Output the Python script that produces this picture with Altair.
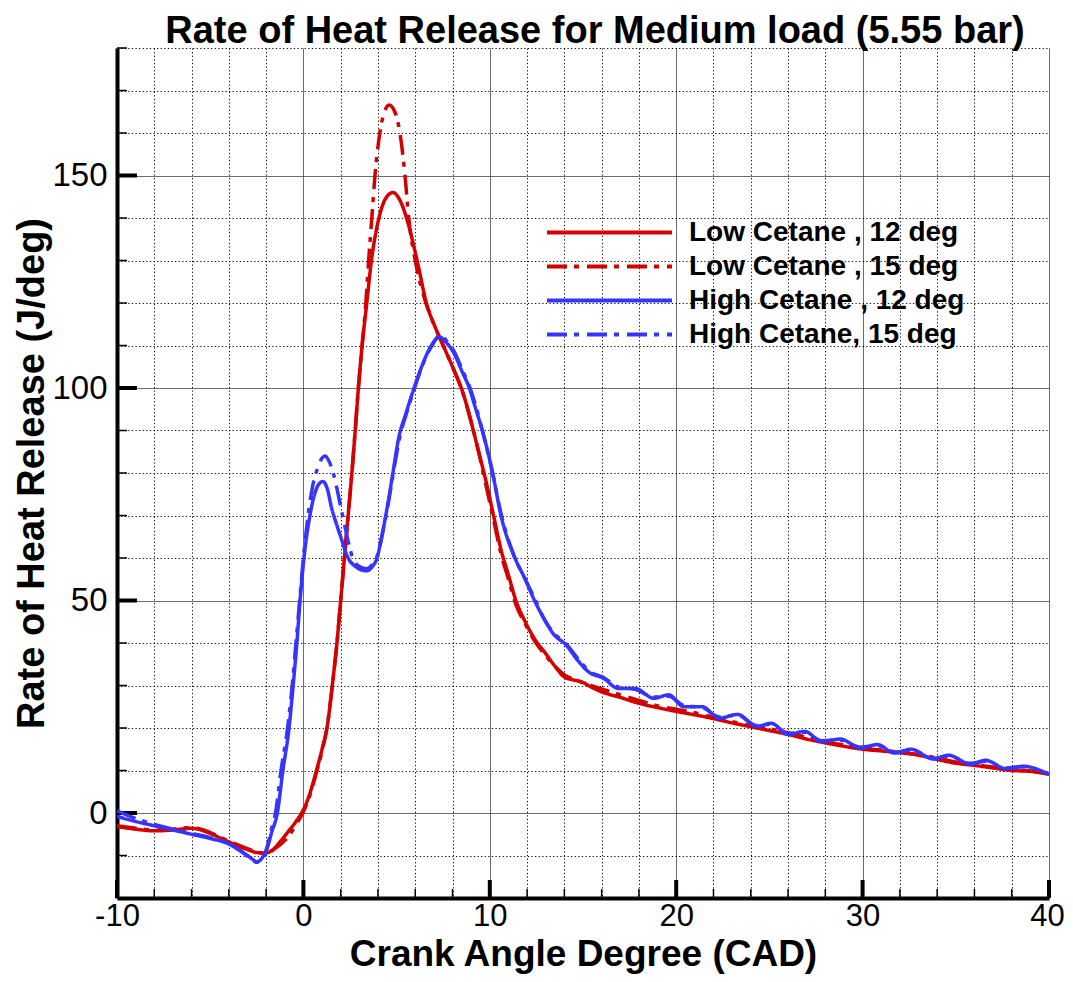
import altair as alt
import pandas as pd

SERIES = ["Low Cetane , 12 deg", "Low Cetane , 15 deg", "High Cetane , 12 deg", "High Cetane, 15 deg"]
COLORS = ["#d40000", "#d40000", "#3535ff", "#3535ff"]
DASHES = [[1, 0], [20, 7, 5, 8], [1, 0], [20, 7, 5, 8]]

low12_x = [-10, -9, -8, -7, -6, -5.5, -5, -4.5, -4, -3.5, -3, -2.5, -2, -1.6, -1.2, -0.8, -0.4, 0, 0.3, 0.7,
           1.0, 1.3, 1.55, 1.8, 2.0, 2.2, 2.4, 2.6, 2.78, 2.95, 3.15, 3.4, 3.65, 4.0, 4.4, 4.8, 5.2, 5.6,
           6.1, 6.6, 7.1, 7.6, 8.1, 8.55, 9.0, 9.4, 9.8, 10.2, 10.6, 11.0, 11.4, 11.9, 12.4, 13.0, 13.5,
           14.0, 14.5, 14.9, 15.5, 16, 17, 18, 19, 20, 21, 22, 23, 24, 25, 26, 27, 28, 29, 30, 31, 32,
           33, 34, 35, 36, 37, 38, 39, 40]
low12_y = [-3.2, -3.8, -4.2, -4.0, -3.6, -4.0, -4.8, -5.8, -6.8, -7.8, -8.6, -9.3, -9.4, -8.5, -6.5, -4.3,
           -2.0, 0.8, 4, 10, 15, 21, 30, 40, 50, 60, 70, 80, 90, 100, 110, 120, 130, 139, 144.5, 146,
           144, 139, 130, 120, 114, 109, 104, 99, 92, 85, 78, 70, 62, 56, 50, 45, 41, 37.5, 34.5, 32,
           31.3, 30.9, 29.5, 28.5, 27.2, 25.8, 24.8, 23.9, 23.1, 22.2, 21.2, 20.3, 19.4, 18.5, 17.4,
           16.5, 15.7, 15.0, 14.6, 14.2, 13.6, 12.6, 11.7, 11.2, 10.6, 10.0, 9.8, 9.1]

low15_x = [-10, -9, -8, -7, -6, -5.5, -5, -4, -3, -2.5, -2, -1.6, -1.2, -0.8, -0.4, 0, 0.3, 0.7, 1.0, 1.3,
           1.55, 1.8, 2.0, 2.2, 2.4, 2.6, 2.78, 2.95, 3.15, 3.35, 3.5, 3.67, 3.84, 4.1, 4.35, 4.6, 4.9,
           5.18, 5.45, 5.65, 6.0, 6.5, 7.0, 7.5, 8.0, 8.5, 9.0, 9.4, 9.8, 10.2, 10.6, 11.0, 11.4, 11.9,
           12.4, 13.0, 13.5, 14.0, 14.5, 15, 15.5, 16, 17, 18, 19, 20, 21, 22, 23, 24, 25, 26, 27, 28,
           29, 30, 31, 32, 33, 34, 35, 36, 37, 38, 39, 40]
low15_y = [-3.0, -3.6, -4.0, -3.8, -3.4, -3.8, -4.6, -6.6, -8.4, -9.2, -9.6, -8.6, -7.3, -5.5, -2.8, 0.3,
           3.5, 9.5, 14.5, 21, 30, 40, 50, 60, 70, 80, 90, 100, 110, 120, 130, 140, 150, 160, 165,
           166.6, 165, 160, 150, 140, 130, 121, 115, 110, 105, 99.5, 92, 85, 77, 69, 61, 55, 49, 44.5,
           40.5, 37, 34.5, 32.5, 31.5, 30.6, 29.9, 29.2, 27.8, 26.5, 25.2, 24.4, 23.6, 22.5, 21.5,
           20.6, 19.8, 18.9, 17.8, 16.8, 16.0, 15.2, 14.8, 14.3, 13.8, 12.9, 12.0, 11.4, 10.8, 10.2,
           9.9, 9.2]

high12_x = [-10, -9, -8, -7, -6, -5, -4, -3.5, -3, -2.7, -2.5, -2.2, -1.95, -1.7, -1.4, -1.1, -0.77,
            -0.55, -0.35, -0.18, 0.03, 0.35, 0.6, 0.85, 1.05, 1.3, 1.5, 1.7, 2.0, 2.4, 2.8, 3.1, 3.4,
            3.7, 3.95, 4.2, 4.5, 4.8, 5.1, 5.5, 5.9, 6.3, 6.8, 7.3, 7.6, 8.1, 8.5, 8.9, 9.25, 9.6,
            10.15, 10.6, 11.35, 11.9, 12.4, 13.0, 13.4, 14.1, 14.7, 15.3, 16.1, 16.9, 17.8, 18.8,
            19.6, 20.4, 21.4, 22.3, 23.3, 24.3, 25.1, 26.0, 26.9, 27.8, 28.8, 29.9, 30.8, 31.7, 32.6,
            33.8, 34.6, 35.8, 36.6, 37.7, 38.6, 40]
high12_y = [-0.8, -2.0, -3.0, -4.0, -5.0, -6.0, -7.3, -8.6, -10.0, -11.0, -11.5, -10.5, -8.4, -4.5, 0,
            10, 20, 30, 40, 50, 60, 70, 75, 77.5, 78, 76, 72, 69, 65, 60, 58, 57.2, 57, 58, 60, 65,
            72, 80, 88, 94, 99.5, 104.5, 109.5, 112, 111, 108, 104, 100, 95, 90, 80, 70, 60, 55, 50,
            45, 42.2, 39.5, 36, 33.2, 31.7, 29.3, 29.3, 27.0, 27.8, 25.0, 25.0, 22.3, 23.2, 20.4,
            21.1, 18.5, 19.2, 16.8, 17.4, 15.3, 16.1, 14.1, 15.0, 12.7, 13.6, 11.5, 12.4, 10.4, 11.0,
            9.1]

high15_x = [-10, -9, -8, -7, -6, -5, -4, -3.5, -3, -2.7, -2.5, -2.2, -1.95, -1.7, -1.5, -1.2, -0.85,
            -0.6, -0.4, -0.2, 0.0, 0.25, 0.5, 0.75, 1.0, 1.16, 1.35, 1.6, 2.1, 2.65, 3.0, 3.4, 3.7,
            4.0, 4.3, 4.6, 4.9, 5.2, 5.6, 6.0, 6.4, 6.9, 7.35, 7.7, 8.1, 8.5, 8.9, 9.3, 9.6, 10.15,
            10.6, 11.3, 11.9, 12.4, 13.0, 13.4, 14.1, 14.7, 15.3, 16.1, 16.9, 17.8, 18.8, 19.6, 20.4,
            21.4, 22.3, 23.3, 24.3, 25.1, 26.0, 26.9, 27.8, 28.8, 29.9, 30.8, 31.7, 32.6, 33.8, 34.6,
            35.8, 36.6, 37.7, 38.6, 40]
high15_y = [0.5, -1.3, -2.7, -3.8, -4.8, -5.8, -7.2, -8.5, -10.2, -11.2, -11.6, -10.8, -8.0, -3.5, 0,
            10, 20, 30, 40, 50, 60, 70, 77, 81, 83.5, 84, 83, 80, 70, 60, 58, 57.5, 58.5, 61, 67, 74,
            82, 89, 95, 100.5, 105.5, 110, 112.5, 111, 108.5, 104.5, 100.5, 95, 90, 80, 70.5, 60.5,
            55, 50.5, 45, 42.5, 39.8, 36.5, 33.5, 31.9, 29.6, 29.1, 27.3, 27.5, 25.3, 24.8, 22.6,
            23.0, 20.6, 20.9, 18.7, 19.0, 17.0, 17.2, 15.5, 15.9, 14.3, 14.8, 12.9, 13.4, 11.7, 12.2,
            10.6, 10.9, 9.2]

X_GRID = list(range(-10, 41, 2))
Y_GRID = list(range(-20, 181, 10))
X_MAJOR = [-10, 0, 10, 20, 30, 40]
X_MINOR = [v for v in X_GRID if v % 10 != 0]
Y_MAJOR = [0, 50, 100, 150]
Y_MINOR = [v for v in Y_GRID if v % 50 != 0 and v != -20]

W, H = 932, 850
FONT = "Liberation Sans"

frames = []
for name, xs, ys in [(SERIES[0], low12_x, low12_y), (SERIES[1], low15_x, low15_y),
                     (SERIES[2], high12_x, high12_y), (SERIES[3], high15_x, high15_y)]:
    frames.append(pd.DataFrame({"x": xs, "y": ys, "series": name}))
df = pd.concat(frames, ignore_index=True)

xscale = alt.Scale(domain=[-10, 40], nice=False, zero=False)
yscale = alt.Scale(domain=[-20, 180], nice=False, zero=False)

xaxis = alt.Axis(
    values=X_GRID,
    labelExpr="datum.value % 10 === 0 ? replace(datum.label, '\u2212', '-') : ''",
    labelOverlap=False, labelFlush=False,
    labelOffset={"condition": {"test": "datum.value === 40", "value": -2}, "value": 0},
    grid=True,
    gridDash={"condition": {"test": "datum.value % 10 === 0", "value": [1, 0]}, "value": [1.2, 2.4]},
    gridColor={"condition": {"test": "datum.value % 10 === 0", "value": "#3a3a3a"}, "value": "#000000"},
    gridWidth=1, gridOpacity=1,
    ticks=False, domain=True, domainColor="black", domainWidth=4,
    labelFont=FONT, labelFontSize=31, labelColor="black", labelPadding=3,
    title="Crank Angle Degree (CAD)", titleFont=FONT, titleFontSize=37, titleFontWeight="bold",
    titleColor="black", titlePadding=5,
)
yaxis = alt.Axis(
    values=Y_GRID,
    labelExpr="(datum.value % 50 === 0 && datum.value >= 0) ? datum.label : ''",
    labelOverlap=False, labelFlush=False,
    grid=True,
    gridDash={"condition": {"test": "datum.value % 50 === 0", "value": [1, 0]}, "value": [1.2, 2.4]},
    gridColor={"condition": {"test": "datum.value % 50 === 0", "value": "#3a3a3a"}, "value": "#000000"},
    gridWidth=1, gridOpacity=1,
    ticks=False, domain=True, domainColor="black", domainWidth=4,
    labelFont=FONT, labelFontSize=33, labelColor="black", labelPadding=10,
    title="Rate of Heat Release (J/deg)", titleFont=FONT, titleFontSize=38, titleFontWeight="bold",
    titleColor="black", titlePadding=0,
)

legend = alt.Legend(
    title=None, orient="none", legendX=478, legendY=170,
    symbolType="M-5,0H5", symbolSize=625, symbolStrokeWidth=4,
    labelFont=FONT, labelFontSize=28, labelFontWeight="bold", labelColor="black",
    labelOffset=65, labelLimit=0, padding=0, rowPadding=5, symbolOpacity=1,
)

lines = alt.Chart(df).mark_line(strokeWidth=3.5, interpolate="monotone", clip=True).encode(
    x=alt.X("x:Q", scale=xscale, axis=xaxis),
    y=alt.Y("y:Q", scale=yscale, axis=yaxis),
    color=alt.Color("series:N", scale=alt.Scale(domain=SERIES, range=COLORS), legend=legend),
    strokeDash=alt.StrokeDash("series:N", scale=alt.Scale(domain=SERIES, range=DASHES), legend=legend),
)

xt_major = alt.Chart(pd.DataFrame({"v": X_MAJOR})).mark_rule(color="black", strokeWidth=4).encode(
    x=alt.X("v:Q", scale=xscale, axis=xaxis), y=alt.value(H), y2=alt.value(H - 18))
xt_minor = alt.Chart(pd.DataFrame({"v": X_MINOR})).mark_rule(color="black", strokeWidth=1.5).encode(
    x=alt.X("v:Q", scale=xscale, axis=xaxis), y=alt.value(H), y2=alt.value(H - 9))
yt_major = alt.Chart(pd.DataFrame({"v": Y_MAJOR})).mark_rule(color="black", strokeWidth=4).encode(
    y=alt.Y("v:Q", scale=yscale, axis=yaxis), x=alt.value(0), x2=alt.value(20))
yt_minor = alt.Chart(pd.DataFrame({"v": Y_MINOR})).mark_rule(color="black", strokeWidth=1.5).encode(
    y=alt.Y("v:Q", scale=yscale, axis=yaxis), x=alt.value(0), x2=alt.value(10))

chart = alt.layer(xt_minor, xt_major, yt_minor, yt_major, lines).properties(
    width=W, height=H,
    title=alt.TitleParams("Rate of Heat Release for Medium load (5.55 bar)", font=FONT, fontSize=38,
                          fontWeight="bold", color="black", anchor="middle", offset=0, dx=12, dy=19),
    autosize=alt.AutoSizeParams(type="none"),
    padding={"left": 109, "top": 40, "right": 16, "bottom": 76},
    background="white",
).configure_view(stroke=None)

chart.save("out.html", embed_options={"renderer": "svg", "actions": False})
